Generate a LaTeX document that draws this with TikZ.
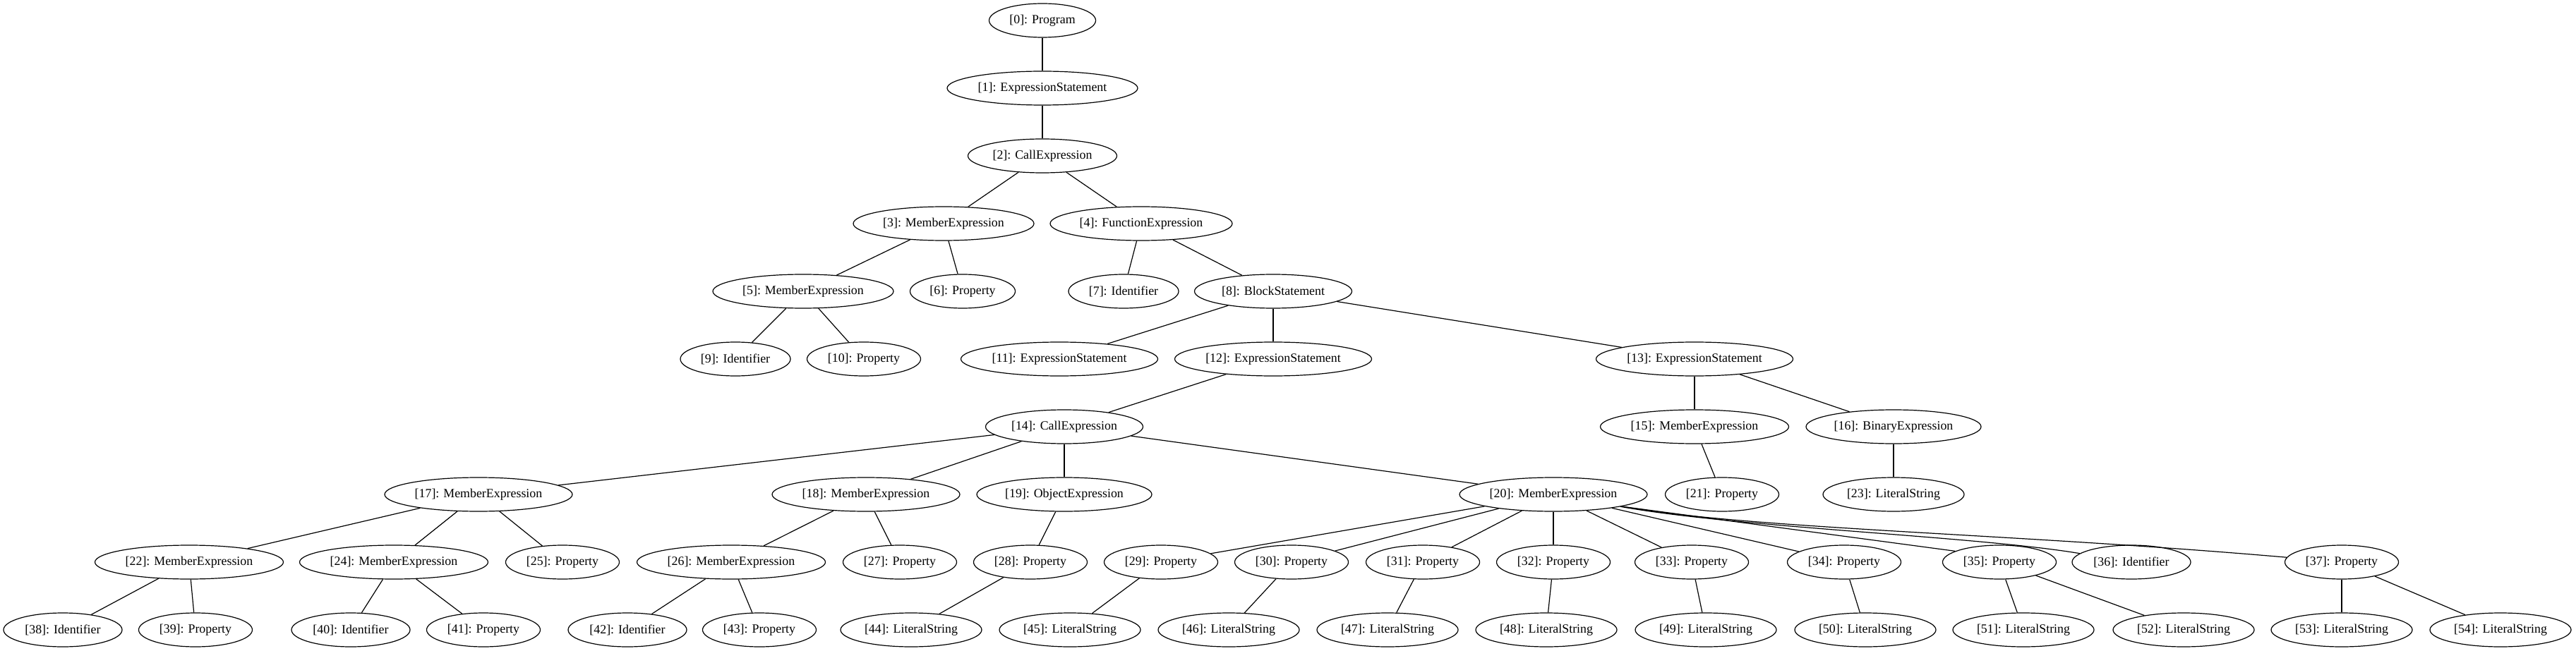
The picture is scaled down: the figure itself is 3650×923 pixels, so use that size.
\documentclass[tikz,border=0pt]{standalone}
\usepackage{fontspec}
\setmainfont{Liberation Serif}
\usetikzlibrary{shapes.geometric}
\begin{document}
\begin{tikzpicture}[x=0.75pt,y=-0.75pt,
  tn/.style={draw, ellipse, inner sep=0pt, minimum height=36pt, line width=0.9pt, font=\fontsize{13.4}{16}\selectfont},
  wd/.style={minimum width=#1*0.75pt},
  edge/.style={line width=0.9pt}]
\useasboundingbox (0,0) rectangle (3650,923);
% row 0-2
\node[tn,wd=151] (n0) at (1477,29) {[0]: Program};
\node[tn,wd=270] (n1) at (1477,125) {[1]: ExpressionStatement};
\node[tn,wd=211] (n2) at (1477,221) {[2]: CallExpression};
% row 3
\node[tn,wd=256] (n3) at (1337,317) {[3]: MemberExpression};
\node[tn,wd=258] (n4) at (1617,317) {[4]: FunctionExpression};
% row 4
\node[tn,wd=256] (n5) at (1138,413) {[5]: MemberExpression};
\node[tn,wd=149] (n6) at (1364,413) {[6]: Property};
\node[tn,wd=156] (n7) at (1592,413) {[7]: Identifier};
\node[tn,wd=223] (n8) at (1804,413) {[8]: BlockStatement};
% row 5
\node[tn,wd=156] (n9) at (1042,509) {[9]: Identifier};
\node[tn,wd=161] (n10) at (1224,509) {[10]: Property};
\node[tn,wd=279] (n11) at (1501,509) {[11]: ExpressionStatement};
\node[tn,wd=279] (n12) at (1804,509) {[12]: ExpressionStatement};
\node[tn,wd=279] (n13) at (2401,509) {[13]: ExpressionStatement};
% row 6
\node[tn,wd=223] (n14) at (1508,605) {[14]: CallExpression};
\node[tn,wd=267] (n15) at (2401,605) {[15]: MemberExpression};
\node[tn,wd=248] (n16) at (2683,605) {[16]: BinaryExpression};
% row 7
\node[tn,wd=266] (n17) at (678,701) {[17]: MemberExpression};
\node[tn,wd=266] (n18) at (1227,701) {[18]: MemberExpression};
\node[tn,wd=248] (n19) at (1508,701) {[19]: ObjectExpression};
\node[tn,wd=266] (n20) at (2201,701) {[20]: MemberExpression};
\node[tn,wd=161] (n21) at (2440,701) {[21]: Property};
\node[tn,wd=200] (n23) at (2683,701) {[23]: LiteralString};
% row 8
\node[tn,wd=267] (n22) at (268,797) {[22]: MemberExpression};
\node[tn,wd=267] (n24) at (558,797) {[24]: MemberExpression};
\node[tn,wd=161] (n25) at (797,797) {[25]: Property};
\node[tn,wd=267] (n26) at (1036,797) {[26]: MemberExpression};
\node[tn,wd=161] (n27) at (1275,797) {[27]: Property};
\node[tn,wd=161] (n28) at (1460,797) {[28]: Property};
\node[tn,wd=161] (n29) at (1645,797) {[29]: Property};
\node[tn,wd=161] (n30) at (1830,797) {[30]: Property};
\node[tn,wd=161] (n31) at (2016,797) {[31]: Property};
\node[tn,wd=161] (n32) at (2201,797) {[32]: Property};
\node[tn,wd=161] (n33) at (2397,797) {[33]: Property};
\node[tn,wd=161] (n34) at (2613,797) {[34]: Property};
\node[tn,wd=161] (n35) at (2833,797) {[35]: Property};
\node[tn,wd=168] (n36) at (3020,797) {[36]: Identifier};
\node[tn,wd=161] (n37) at (3318,797) {[37]: Property};
% row 9
\node[tn,wd=168] (n38) at (89,893) {[38]: Identifier};
\node[tn,wd=161] (n39) at (277,893) {[39]: Property};
\node[tn,wd=168] (n40) at (497,893) {[40]: Identifier};
\node[tn,wd=161] (n41) at (685,893) {[41]: Property};
\node[tn,wd=168] (n42) at (889,893) {[42]: Identifier};
\node[tn,wd=161] (n43) at (1076,893) {[43]: Property};
\node[tn,wd=200] (n44) at (1291,893) {[44]: LiteralString};
\node[tn,wd=200] (n45) at (1516,893) {[45]: LiteralString};
\node[tn,wd=200] (n46) at (1741,893) {[46]: LiteralString};
\node[tn,wd=200] (n47) at (1966,893) {[47]: LiteralString};
\node[tn,wd=200] (n48) at (2191,893) {[48]: LiteralString};
\node[tn,wd=200] (n49) at (2417,893) {[49]: LiteralString};
\node[tn,wd=200] (n50) at (2643,893) {[50]: LiteralString};
\node[tn,wd=200] (n51) at (2867,893) {[51]: LiteralString};
\node[tn,wd=200] (n52) at (3094,893) {[52]: LiteralString};
\node[tn,wd=200] (n53) at (3318,893) {[53]: LiteralString};
\node[tn,wd=200] (n54) at (3543,893) {[54]: LiteralString};
% edges
\foreach \a/\b in {0/1,1/2,2/3,2/4,3/5,3/6,4/7,4/8,5/9,5/10,8/11,8/12,8/13,12/14,13/15,13/16,
  14/17,14/18,14/19,14/20,15/21,16/23,17/22,17/24,17/25,18/26,18/27,19/28,
  20/29,20/30,20/31,20/32,20/33,20/34,
  22/38,22/39,24/40,24/41,26/42,26/43,28/44,29/45,30/46,31/47,32/48,33/49,34/50,
  35/51,35/52,37/53,37/54}
  \draw[edge] (n\a) -- (n\b);
\draw[edge] (n20.-10) -- (n35.166);
\draw[edge] (n20) .. controls (2460,748) and (2800,760) .. (n36);
\draw[edge] (n20) .. controls (2480,750) and (2846,756) .. (n37);
\end{tikzpicture}
\end{document}
